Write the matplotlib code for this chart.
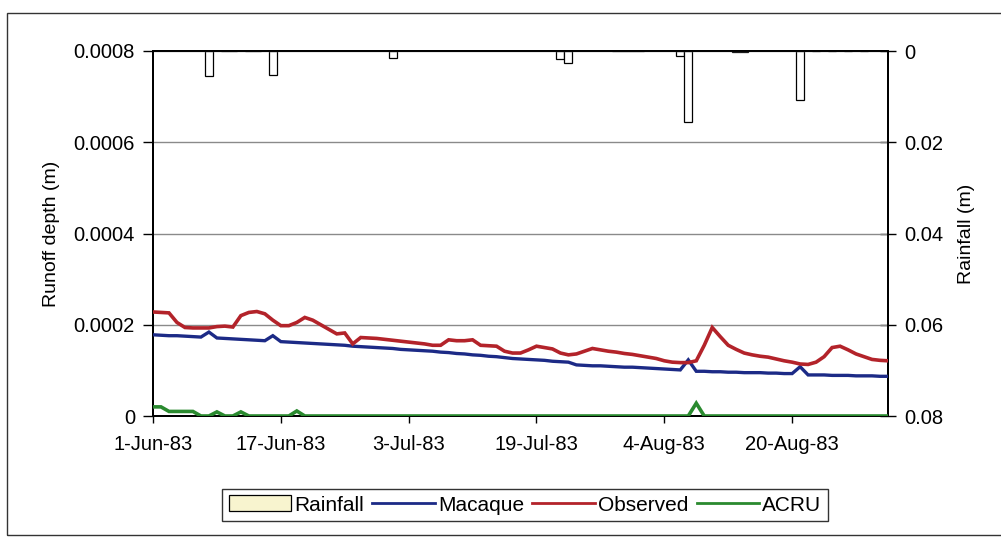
import numpy as np
import matplotlib
matplotlib.use("Agg")
import matplotlib.pyplot as plt
from matplotlib.patches import Patch, Rectangle
from matplotlib.lines import Line2D

plt.rcParams['font.family'] = ['Liberation Sans', 'DejaVu Sans']

# ---- data (day index 0 = 1-Jun-83) ----
n_days = 93
days = np.arange(n_days)

# Macaque simulated runoff depth, units of 1e-4 m
macaque_e4 = [1.78, 1.77, 1.76, 1.76, 1.75, 1.74, 1.73, 1.84, 1.71, 1.70,
              1.69, 1.68, 1.67, 1.66, 1.65, 1.76, 1.63, 1.62, 1.61, 1.60,
              1.59, 1.58, 1.57, 1.56, 1.55, 1.53, 1.52, 1.51, 1.50, 1.49,
              1.48, 1.46, 1.45, 1.44, 1.43, 1.42, 1.40, 1.39, 1.37, 1.36,
              1.34, 1.33, 1.31, 1.30, 1.28, 1.26, 1.25, 1.24, 1.23, 1.22,
              1.20, 1.19, 1.18, 1.12, 1.11, 1.10, 1.10, 1.09, 1.08, 1.07,
              1.07, 1.06, 1.05, 1.04, 1.03, 1.02, 1.01, 1.23, 0.98, 0.98,
              0.97, 0.97, 0.96, 0.96, 0.95, 0.95, 0.95, 0.94, 0.94, 0.93,
              0.93, 1.08, 0.90, 0.90, 0.90, 0.89, 0.89, 0.89, 0.88, 0.88,
              0.88, 0.87, 0.87]

# Observed runoff depth, units of 1e-4 m
observed_e4 = [2.28, 2.27, 2.26, 2.05, 1.94, 1.93, 1.93, 1.93, 1.96, 1.97,
               1.95, 2.20, 2.27, 2.29, 2.24, 2.10, 1.98, 1.98, 2.05, 2.16,
               2.10, 2.00, 1.90, 1.80, 1.82, 1.58, 1.72, 1.71, 1.70, 1.68,
               1.66, 1.64, 1.62, 1.60, 1.58, 1.55, 1.55, 1.67, 1.65, 1.65,
               1.67, 1.55, 1.54, 1.53, 1.42, 1.38, 1.38, 1.45, 1.53, 1.50,
               1.47, 1.38, 1.34, 1.36, 1.42, 1.48, 1.45, 1.42, 1.40, 1.37,
               1.35, 1.32, 1.29, 1.26, 1.21, 1.18, 1.17, 1.17, 1.21, 1.55,
               1.94, 1.74, 1.55, 1.46, 1.38, 1.34, 1.31, 1.29, 1.25, 1.21,
               1.18, 1.14, 1.13, 1.18, 1.30, 1.50, 1.53, 1.45, 1.36, 1.30,
               1.24, 1.22, 1.21]

# ACRU simulated runoff depth, units of 1e-4 m
acru_e4 = [0.20, 0.20, 0.10, 0.10, 0.10, 0.10, 0.00, 0.00, 0.09, 0.00,
           0.00, 0.09, 0.00, 0.00, 0.00, 0.00, 0.00, 0.00, 0.11, 0.00,
           0.00, 0.00, 0.00, 0.00, 0.00, 0.00, 0.00, 0.00, 0.00, 0.00,
           0.00, 0.00, 0.00, 0.00, 0.00, 0.00, 0.00, 0.00, 0.00, 0.00,
           0.00, 0.00, 0.00, 0.00, 0.00, 0.00, 0.00, 0.00, 0.00, 0.00,
           0.00, 0.00, 0.00, 0.00, 0.00, 0.00, 0.00, 0.00, 0.00, 0.00,
           0.00, 0.00, 0.00, 0.00, 0.00, 0.00, 0.00, 0.00, 0.28, 0.00,
           0.00, 0.00, 0.00, 0.00, 0.00, 0.00, 0.00, 0.00, 0.00, 0.00,
           0.00, 0.00, 0.00, 0.00, 0.00, 0.00, 0.00, 0.00, 0.00, 0.00,
           0.00, 0.00, 0.00]

# Rainfall (m), only rain days
rain_days = [7, 9, 10, 12, 13, 15, 30, 51, 52, 58, 59, 60, 61, 66, 67,
             73, 74, 81, 83, 85, 87, 89]
rain_m = [0.0055, 0.0001, 0.0001, 0.0001, 0.0001, 0.0052, 0.0016, 0.0018,
          0.0027, 0.0001, 0.0001, 0.0001, 0.0001, 0.0012, 0.0155, 0.0002,
          0.0002, 0.0108, 0.0001, 0.0001, 0.0001, 0.0001]

xtick_days = [0, 16, 32, 48, 64, 80]
xtick_labels = ['1-Jun-83', '17-Jun-83', '3-Jul-83', '19-Jul-83',
                '4-Aug-83', '20-Aug-83']
left_ticks = [0, 0.0002, 0.0004, 0.0006, 0.0008]
left_labels = ['0', '0.0002', '0.0004', '0.0006', '0.0008']
right_ticks = [0, 0.02, 0.04, 0.06, 0.08]
right_labels = ['0', '0.02', '0.04', '0.06', '0.08']

macaque = np.array(macaque_e4) * 1e-4
observed = np.array(observed_e4) * 1e-4
acru = np.array(acru_e4) * 1e-4

# ---- figure ----
W, H = 1001, 538
fig = plt.figure(figsize=(W / 100, H / 100), dpi=100)
ax1 = fig.add_axes([153 / W, 1 - 416 / H, 735 / W, 365 / H])
ax2 = ax1.twinx()

# rainfall bars on right (inverted) axis
ax2.bar(rain_days, rain_m, width=1.0, facecolor='white', edgecolor='black',
        linewidth=0.9, zorder=2)
ax2.set_ylim(0.08, 0)
ax2.set_yticks(right_ticks)
ax2.set_yticklabels(right_labels)
ax2.set_ylabel('Rainfall (m)', fontsize=14, labelpad=10)

# runoff lines
ax1.set_zorder(ax2.get_zorder() + 1)
ax1.patch.set_visible(False)
c_blue = '#1c2a86'
c_red = '#b3232a'
c_green = '#2a8a2f'
ax1.plot(days, macaque, color=c_blue, lw=2.4, solid_joinstyle='miter', zorder=3)
ax1.plot(days, observed, color=c_red, lw=2.6, solid_joinstyle='miter', zorder=3)
ax1.plot(days, acru, color=c_green, lw=2.6, solid_joinstyle='miter', zorder=3)

ax1.set_xlim(0, 92)
ax1.set_ylim(0, 0.0008)
ax1.set_yticks(left_ticks)
ax1.set_yticklabels(left_labels)
ax1.set_xticks(xtick_days)
ax1.set_xticklabels(xtick_labels)
ax1.set_ylabel('Runoff depth (m)', fontsize=14, labelpad=10)
ax1.yaxis.grid(True, color='#8a8a8a', lw=1.0)
ax1.set_axisbelow(True)

for ax in (ax1, ax2):
    for s in ax.spines.values():
        s.set_color('black')
        s.set_linewidth(1.4)
ax1.tick_params(axis='y', direction='out', length=7, width=1, labelsize=14.5, pad=6)
ax1.tick_params(axis='x', direction='out', length=5, width=1, labelsize=14.5, pad=9)
ax2.tick_params(axis='y', direction='inout', length=12, width=1, labelsize=14.5, pad=6)

# legend
handles = [Patch(facecolor='#f8f4cf', edgecolor='black', linewidth=0.9),
           Line2D([], [], color=c_blue, lw=2),
           Line2D([], [], color=c_red, lw=2),
           Line2D([], [], color=c_green, lw=2)]
labels = ['Rainfall', 'Macaque', 'Observed', 'ACRU']
leg = fig.legend(handles, labels, loc='center', bbox_to_anchor=(525 / W, 1 - 505 / H),
                 ncol=4, fontsize=15, frameon=True, fancybox=False,
                 edgecolor='black', handlelength=3.0, handleheight=0.8,
                 handletextpad=0.15, columnspacing=0.4, borderpad=0.3,
                 borderaxespad=0)
leg.get_frame().set_linewidth(1.0)

# chart-area border
fig.add_artist(Rectangle((7 / W, 3 / H), 1.2, 1 - 13 / H - 3 / H,
                         transform=fig.transFigure, fill=False,
                         edgecolor='#333333', linewidth=1.0))

fig.savefig('out.png', dpi=100)
